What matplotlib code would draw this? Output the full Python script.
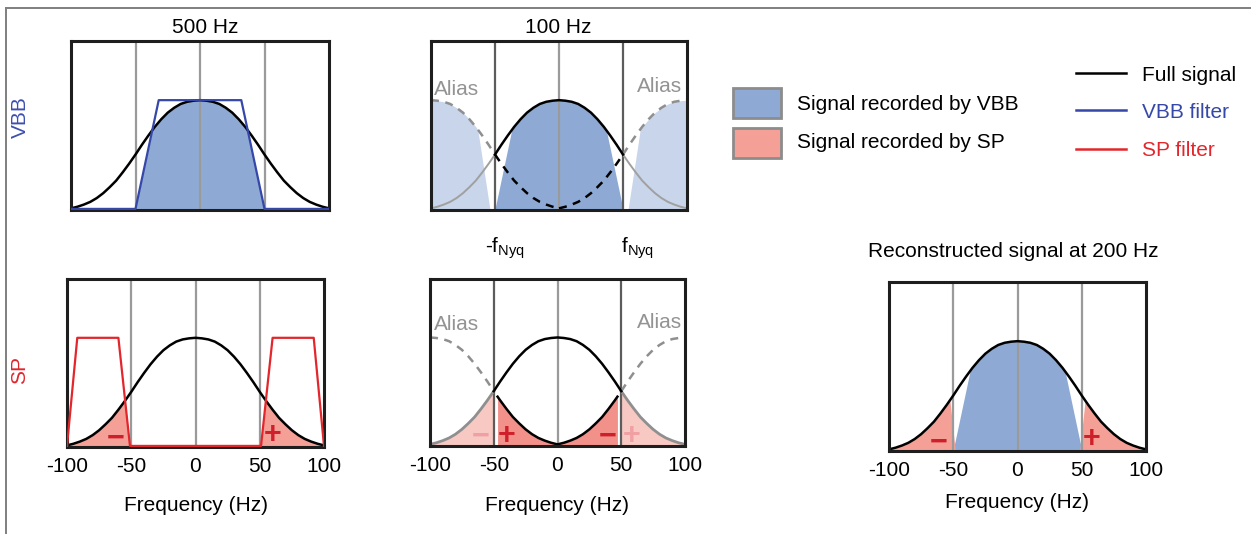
import numpy as np
import matplotlib
matplotlib.use("Agg")
import matplotlib.pyplot as plt
from matplotlib.lines import Line2D
from matplotlib.patches import Rectangle

plt.rcParams['font.family'] = ['Liberation Sans', 'DejaVu Sans']

# ---------------- data ----------------
freq = [-100, -95, -90, -85, -80, -75, -70, -65, -60, -55, -50, -45, -40, -35, -30,
        -25, -20, -15, -10, -5, 0, 5, 10, 15, 20, 25, 30, 35, 40, 45, 50, 55, 60,
        65, 70, 75, 80, 85, 90, 95, 100]
signal = [0.005, 0.02, 0.04, 0.065, 0.10, 0.145, 0.20, 0.26, 0.335, 0.415, 0.50,
          0.59, 0.675, 0.755, 0.825, 0.885, 0.93, 0.965, 0.985, 0.995, 1.00,
          0.995, 0.985, 0.965, 0.93, 0.885, 0.825, 0.755, 0.675, 0.59, 0.50,
          0.415, 0.335, 0.26, 0.20, 0.145, 0.10, 0.065, 0.04, 0.02, 0.005]

vbb_filter_f = [-100, -50, -32, 32, 50, 100]
vbb_filter_g = [0, 0, 1, 1, 0, 0]
vbb_alias_filter_f = [-100, -46, -33, 33, 46, 100]
sp_filter_f = [-100, -92, -60, -51, 51, 60, 92, 100]
sp_filter_g = [0, 1, 1, 0, 0, 1, 1, 0]
sp_recon_filter_f = [-100, -92, -57.5, -48.5, 48.5, 57.5, 92, 100]

sampling_100 = 100          # alias replicas shifted by the sampling rate
nyquist = 50
sp_alias_edge = 53          # edge of the SP tail that folds back
grid_f = [-50, 0, 50]
xticks = [-100, -50, 0, 50, 100]
xtick_labels = ['-100', '-50', '0', '50', '100']

# ---------------- style ----------------
BLUE_FILL = '#8eaad4'
BLUE_ALIAS = '#c8d5ea'
RED_FILL = '#f4a097'
RED_ALIAS = '#f2908a'
RED_FADED = '#f8c8c3'
RED_LINE = '#e3262b'
BLUE_LINE = '#3547a8'
SIGN_RED = '#cf1f2a'
SIGN_FADED = '#f0a0a3'
GRID = '#9a9a9a'
GRID_DARK = '#5c5c5c'
GRAY_CURVE = '#8f8f8f'
ALIAS_TXT = '#939393'
FS = 15

F = np.asarray(freq, float)
S = np.asarray(signal, float)
Y_LO, Y_HI = -0.01, 1.544

W, H = 1251, 534
fig = plt.figure(figsize=(W / 100, H / 100), dpi=100)


def P(x, y):
    return x / W, 1 - y / H


def curve(x, shift=0.0):
    return np.interp(np.asarray(x) - shift, F, S, left=0, right=0)


def trap(x, fx, gx, shift=0.0):
    return np.interp(np.asarray(x) - shift, fx, gx, left=0, right=0)


def seg(lo, hi, shift=0.0):
    xs = F + shift
    inner = xs[(xs > lo) & (xs < hi)]
    x = np.concatenate([[lo], inner, [hi]])
    return x, curve(x, shift)


def dense(lo, hi):
    return np.linspace(lo, hi, 600)


def make_ax(x0, x1, y0, y1, labels):
    ax = fig.add_axes([x0 / W, 1 - y1 / H, (x1 - x0) / W, (y1 - y0) / H])
    ax.set_xlim(-100, 100)
    ax.set_ylim(Y_LO, Y_HI)
    ax.set_yticks([])
    ax.set_xticks(xticks)
    if labels:
        ax.set_xticklabels(xtick_labels, fontsize=FS)
    else:
        ax.set_xticklabels([])
    ax.tick_params(axis='x', length=0, pad=7.5)
    for s in ax.spines.values():
        s.set_linewidth(2.2)
        s.set_color('#1e1e1e')
        s.set_zorder(5)
    return ax


def gridlines(ax, dark_nyq=False):
    for g in grid_f:
        c = GRID_DARK if (dark_nyq and abs(g) == nyquist) else GRID
        ax.axvline(g, color=c, lw=1.6, zorder=2.2)


def signs(ax, items):
    for x, y, s, c in items:
        ax.text(x, y, s, color=c, fontsize=22, fontweight='bold', ha='center',
                va='center', zorder=4, family=['Liberation Sans', 'DejaVu Sans'])


# ---------------- panel 1 : VBB 500 Hz ----------------
ax1 = make_ax(71, 329, 41, 210, False)
x = dense(-50, 50)
ax1.fill_between(x, 0, np.minimum(curve(x), trap(x, vbb_filter_f, vbb_filter_g)),
                 color=BLUE_FILL, lw=0, zorder=1)
gridlines(ax1)
ax1.plot(vbb_filter_f, vbb_filter_g, color=BLUE_LINE, lw=1.6, zorder=6)
ax1.plot(F, S, color='black', lw=1.8, zorder=4)

# ---------------- panel 2 : VBB 100 Hz ----------------
ax2 = make_ax(431, 687, 41, 210, False)
for sh, lo, hi in [(-sampling_100, -100, -54), (sampling_100, 54, 100)]:
    x = dense(lo, hi)
    ax2.fill_between(x, 0, np.minimum(curve(x, sh), trap(x, vbb_alias_filter_f, vbb_filter_g, sh)),
                     color=BLUE_ALIAS, lw=0, zorder=1)
x = dense(-50, 50)
ax2.fill_between(x, 0, np.minimum(curve(x), trap(x, vbb_filter_f, vbb_filter_g)),
                 color=BLUE_FILL, lw=0, zorder=1)
gridlines(ax2, dark_nyq=True)
for lo, hi in [(-100, -50), (50, 100)]:
    ax2.plot(*seg(lo, hi), color='#a0a0a0', lw=1.4, zorder=3)
ax2.plot(*seg(-100, -50, -sampling_100), color=GRAY_CURVE, lw=1.8, ls=(0, (3.2, 2.6)), zorder=3)
ax2.plot(*seg(50, 100, sampling_100), color=GRAY_CURVE, lw=1.8, ls=(0, (3.2, 2.6)), zorder=3)
ax2.plot(*seg(-50, 0, -sampling_100), color='black', lw=1.8, ls=(0, (3.2, 2.6)), zorder=4)
ax2.plot(*seg(0, 50, sampling_100), color='black', lw=1.8, ls=(0, (3.2, 2.6)), zorder=4)
ax2.plot(*seg(-50, 50), color='black', lw=1.8, zorder=4)

# ---------------- panel 3 : SP 500 Hz ----------------
ax3 = make_ax(67, 324, 279, 447, True)
for lo, hi in [(-100, -51), (51, 100)]:
    x = dense(lo, hi)
    ax3.fill_between(x, 0, np.minimum(curve(x), trap(x, sp_filter_f, sp_filter_g)),
                     color=RED_FILL, lw=0, zorder=1)
gridlines(ax3)
ax3.plot(sp_filter_f, sp_filter_g, color=RED_LINE, lw=1.6, zorder=6)
ax3.plot(F, S, color='black', lw=1.8, zorder=4)
signs(ax3, [(-62, 0.07, '\u2212', SIGN_RED), (60, 0.10, '+', SIGN_RED)])

# ---------------- panel 4 : SP 100 Hz ----------------
ax4 = make_ax(430, 685, 279, 446, True)
for lo, hi in [(-100, -50), (50, 100)]:
    x = dense(lo, hi)
    ax4.fill_between(x, 0, curve(x), color=RED_FADED, lw=0, zorder=1)
x = dense(sp_alias_edge - sampling_100, 0)
ax4.fill_between(x, 0, curve(x, -sampling_100), color=RED_ALIAS, lw=0, zorder=1)
x = dense(0, sampling_100 - sp_alias_edge)
ax4.fill_between(x, 0, curve(x, sampling_100), color=RED_ALIAS, lw=0, zorder=1)
gridlines(ax4, dark_nyq=True)
for lo, hi in [(-100, -50), (50, 100)]:
    ax4.plot(*seg(lo, hi), color=GRAY_CURVE, lw=2.0, zorder=3)
ax4.plot(*seg(-100, -50, -sampling_100), color=GRAY_CURVE, lw=1.8, ls=(0, (3.2, 2.6)), zorder=3)
ax4.plot(*seg(50, 100, sampling_100), color=GRAY_CURVE, lw=1.8, ls=(0, (3.2, 2.6)), zorder=3)
ax4.plot(*seg(sp_alias_edge - sampling_100, 0, -sampling_100), color='black', lw=1.8, zorder=4)
ax4.plot(*seg(0, sampling_100 - sp_alias_edge, sampling_100), color='black', lw=1.8, zorder=4)
ax4.plot(*seg(-50, 50), color='black', lw=1.8, zorder=4)
signs(ax4, [(-60, 0.08, '\u2212', SIGN_FADED), (-40, 0.08, '+', SIGN_RED),
            (39, 0.08, '\u2212', SIGN_RED), (58, 0.08, '+', SIGN_FADED)])

# ---------------- panel 5 : reconstructed 200 Hz ----------------
ax5 = make_ax(889, 1146, 282, 451, True)
x = dense(-50, 50)
ax5.fill_between(x, 0, np.minimum(curve(x), trap(x, vbb_filter_f, vbb_filter_g)),
                 color=BLUE_FILL, lw=0, zorder=1)
for lo, hi in [(-100, -48.5), (48.5, 100)]:
    x = dense(lo, hi)
    ax5.fill_between(x, 0, np.minimum(curve(x), trap(x, sp_recon_filter_f, sp_filter_g)),
                     color=RED_FILL, lw=0, zorder=1)
gridlines(ax5)
ax5.plot(F, S, color='black', lw=1.8, zorder=4)
signs(ax5, [(-61, 0.07, '\u2212', SIGN_RED), (58, 0.10, '+', SIGN_RED)])

# ---------------- texts ----------------
fig.text(*P(205, 33), '500 Hz', fontsize=FS, ha='center', va='baseline')
fig.text(*P(558, 33), '100 Hz', fontsize=FS, ha='center', va='baseline')
fig.text(*P(20, 117), 'VBB', fontsize=FS, color='#3d4fae', rotation=90, ha='center', va='center')
fig.text(*P(20, 370), 'SP', fontsize=FS, color='#e0262d', rotation=90, ha='center', va='center')
for cx, by in [(457, 95), (660, 92), (457, 330), (660, 328)]:
    fig.text(*P(cx, by), 'Alias', fontsize=15, color=ALIAS_TXT, ha='center', va='baseline')
fig.text(*P(485, 252), r'-f$_{\mathregular{Nyq}}$', fontsize=FS, ha='left', va='baseline')
fig.text(*P(621, 252), r'f$_{\mathregular{Nyq}}$', fontsize=FS, ha='left', va='baseline')
fig.text(*P(1013, 257), 'Reconstructed signal at 200 Hz', fontsize=FS, ha='center', va='baseline')
for cx, by in [(196, 511), (557, 511), (1017, 508)]:
    fig.text(*P(cx, by), 'Frequency (Hz)', fontsize=FS, ha='center', va='baseline')

# ---------------- legend ----------------
for y0, fc, lab, by in [(88, BLUE_FILL, 'Signal recorded by VBB', 110),
                        (128, RED_FILL, 'Signal recorded by SP', 148)]:
    fig.add_artist(Rectangle(P(733, y0 + 30), 48 / W, 30 / H, transform=fig.transFigure,
                             facecolor=fc, edgecolor='#8c8c8c', lw=2))
    fig.text(*P(797, by), lab, fontsize=15, ha='left', va='baseline')
for y, c, lab, by in [(73, 'black', 'Full signal', 81),
                      (110, BLUE_LINE, 'VBB filter', 118),
                      (149, RED_LINE, 'SP filter', 156)]:
    fig.add_artist(Line2D([1076 / W, 1126 / W], [1 - y / H] * 2, color=c, lw=1.8,
                          transform=fig.transFigure))
    fig.text(*P(1142, by), lab, fontsize=15, color=c, ha='left', va='baseline')

# ---------------- outer frame (top and left) ----------------
fig.add_artist(Line2D([6 / W, 1.0], [1 - 8 / H] * 2, color='#7f7f7f', lw=1.4,
                      transform=fig.transFigure))
fig.add_artist(Line2D([6 / W, 6 / W], [0, 1 - 8 / H], color='#7f7f7f', lw=1.4,
                      transform=fig.transFigure))

fig.savefig('out.png', dpi=100)
